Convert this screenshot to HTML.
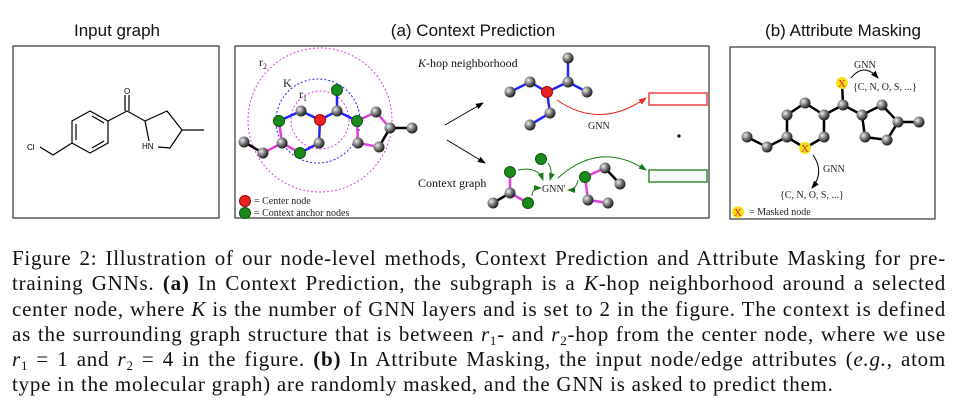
<!DOCTYPE html>
<html><head><meta charset="utf-8"><style>
body{margin:0;width:966px;height:412px;background:#fff;overflow:hidden;position:relative}
svg{position:absolute;left:0;top:0}
.cap{position:absolute;left:12px;top:246px;width:934px;font-family:"Liberation Serif",serif;font-size:21px;letter-spacing:0.75px;line-height:25.3px;color:#111}
.cap div{white-space:nowrap;text-align:justify;text-align-last:justify;height:25.3px}
.cap div.last{text-align-last:left}
.cap i{font-style:italic}
.cap sub{font-size:13px;line-height:0;vertical-align:0;position:relative;top:4px}
</style></head><body>
<svg width="966" height="240" viewBox="0 0 966 240">
<defs>
<radialGradient id="gb" cx="0.35" cy="0.35" r="0.7"><stop offset="0" stop-color="#eee"/><stop offset="0.5" stop-color="#777"/><stop offset="1" stop-color="#111"/></radialGradient>
<marker id="ab" markerWidth="8" markerHeight="8" refX="7" refY="4" orient="auto"><path d="M0,1 L8,4 L0,7z" fill="#000"/></marker>
<marker id="ar" markerWidth="8" markerHeight="8" refX="7" refY="4" orient="auto"><path d="M0,1 L8,4 L0,7z" fill="#e22"/></marker>
<marker id="ag" markerWidth="8" markerHeight="8" refX="7" refY="4" orient="auto"><path d="M0,1 L8,4 L0,7z" fill="#1a7a1a"/></marker>
</defs>
<g font-family="Liberation Sans,sans-serif" font-size="17" fill="#111" text-anchor="middle">
<text x="117" y="36">Input graph</text>
<text x="473" y="36">(a) Context Prediction</text>
<text x="843" y="36">(b) Attribute Masking</text>
</g>
<g fill="none" stroke="#333" stroke-width="1.2">
<rect x="13" y="46" width="206" height="172"/>
<rect x="235" y="46" width="474" height="172"/>
<rect x="730" y="47" width="205" height="172"/>
</g>
<g stroke="#000" stroke-width="1.2" fill="none">
<path d="M90,111 L108,121 L108,143 L90,153 L72,143 L72,121 Z"/>
<path d="M92,116 L104,123 M104,141 L92,148 M76,140 L76,124"/>
<path d="M72,143 L53,155 L40,147"/>
<path d="M108,121 L127,111 L145,121 L167,111 L182,130 L170,148 L158,147 M149,141 L145,121 M182,130 L204,130"/>
<path d="M125,111 L125,95 M129,111 L129,95"/>
</g>
<g font-family="Liberation Sans,sans-serif" font-size="8" fill="#000">
<text x="27" y="150">Cl</text><text x="124" y="94">O</text><text x="142" y="149">HN</text>
</g>
<g fill="none" stroke-dasharray="2,2" stroke-width="1">
<circle cx="320" cy="120" r="72" stroke="#e040e0"/>
<circle cx="318" cy="121" r="42" stroke="#22f"/>
<circle cx="320" cy="120" r="29" stroke="#e040e0"/>
</g>
<g font-family="Liberation Serif,serif" font-size="12" fill="#222">
<text x="259" y="66">r<tspan font-size="8" dy="3">2</tspan></text>
<text x="283" y="87">K</text>
<text x="299" y="98">r<tspan font-size="8" dy="3">1</tspan></text>
</g>
<g stroke-width="2.5" fill="none">
<path stroke="#22f" d="M320,120 L301,111 L279,121 M320,120 L337,111 L337,90 M337,111 L357,121 M320,120 L319,143 L300,153"/>
<path stroke="#e040e0" d="M279,121 L282,143 L300,153 M282,143 L263,153 M357,121 L376,112 L390,128 M357,121 L358,143 L379,147"/>
<path stroke="#000" d="M263,153 L244,142 M390,128 L412,128 M379,147 L390,128"/>
</g>
<g fill="url(#gb)">
<circle cx="301" cy="111" r="5.5"/><circle cx="337" cy="111" r="5.5"/><circle cx="319" cy="143" r="5.5"/><circle cx="282" cy="143" r="5.5"/><circle cx="263" cy="153" r="5.5"/><circle cx="244" cy="142" r="5.5"/><circle cx="376" cy="112" r="5.5"/><circle cx="390" cy="128" r="5.5"/><circle cx="412" cy="128" r="5.5"/><circle cx="379" cy="147" r="5.5"/><circle cx="358" cy="143" r="5.5"/>
</g>
<g fill="#1a8a1a" stroke="#0a5a0a"><circle cx="279" cy="121" r="5.5"/><circle cx="337" cy="90" r="5.5"/><circle cx="357" cy="121" r="5.5"/><circle cx="300" cy="153" r="5.5"/><circle cx="245" cy="213" r="5.5"/></g>
<g fill="#e82020" stroke="#a00"><circle cx="320" cy="120" r="5.5"/><circle cx="245" cy="201" r="5.5"/></g>
<g font-family="Liberation Serif,serif" font-size="10" fill="#222"><text x="254" y="204">=  Center node</text><text x="254" y="216">=  Context anchor nodes</text></g>
<g stroke="#000" stroke-width="1"><line x1="445" y1="125" x2="483" y2="103" marker-end="url(#ab)"/><line x1="447" y1="140" x2="485" y2="163" marker-end="url(#ab)"/></g>
<g font-family="Liberation Serif,serif" font-size="12" fill="#111"><text x="418" y="67"><tspan font-style="italic">K</tspan>-hop neighborhood</text><text x="418" y="187">Context graph</text></g>
<path stroke="#22f" stroke-width="2.5" fill="none" d="M510,92 L530,82 L547,92 L568,82 L568,58 M568,82 L587,92 M547,92 L550,113 L530,125"/>
<g fill="url(#gb)"><circle cx="510" cy="92" r="5.5"/><circle cx="530" cy="82" r="5.5"/><circle cx="568" cy="82" r="5.5"/><circle cx="568" cy="58" r="5.5"/><circle cx="587" cy="92" r="5.5"/><circle cx="550" cy="113" r="5.5"/><circle cx="530" cy="125" r="5.5"/></g>
<circle cx="547" cy="92" r="5.5" fill="#e82020" stroke="#a00"/>
<path d="M557,100 Q600,130 646,98" fill="none" stroke="#e22" stroke-width="1" marker-end="url(#ar)"/>
<text x="588" y="129" font-family="Liberation Serif,serif" font-size="10" fill="#222">GNN</text>
<rect x="649" y="93" width="58" height="12" fill="none" stroke="#e22" stroke-width="1.3"/>
<circle cx="679" cy="136" r="1.6" fill="#000"/>
<rect x="649" y="170" width="58" height="12" fill="none" stroke="#1a7a1a" stroke-width="1.3"/>
<g stroke-width="2.5" fill="none"><path stroke="#e040e0" d="M510,172 L510,193 L528,203 M585,177 L605,168 M585,177 L588,200 L608,203"/><path stroke="#000" d="M510,193 L493,203 M605,168 L620,184"/></g>
<g fill="url(#gb)"><circle cx="510" cy="193" r="5.5"/><circle cx="493" cy="203" r="5.5"/><circle cx="605" cy="168" r="5.5"/><circle cx="620" cy="184" r="5.5"/><circle cx="588" cy="200" r="5.5"/><circle cx="608" cy="203" r="5.5"/></g>
<g fill="#1a8a1a" stroke="#0a5a0a"><circle cx="510" cy="172" r="5.5"/><circle cx="541" cy="159" r="5.5"/><circle cx="528" cy="203" r="5.5"/><circle cx="585" cy="177" r="5.5"/></g>
<text x="542" y="192" font-family="Liberation Serif,serif" font-size="10" fill="#222">GNN′</text>
<g stroke="#1a7a1a" stroke-width="1" fill="none">
<path d="M518,170 Q538,166 543,180" marker-end="url(#ag)"/>
<path d="M548,163 Q553,170 550,180" marker-end="url(#ag)"/>
<path d="M532,196 Q532,188 541,188" marker-end="url(#ag)"/>
<path d="M578,180 Q576,190 568,190" marker-end="url(#ag)"/>
<path d="M558,178 Q600,140 646,170" marker-end="url(#ag)"/>
</g>
<path stroke="#000" stroke-width="2.5" fill="none" d="M842,83 L843,105 L824,115 L824,137 L805,148 L787,137 L787,115 L805,103 L824,115 M843,105 L862,115 L882,105 L898,122 L887,140 L865,137 L862,115 M898,122 L919,122 M787,137 L767,147 L747,137"/>
<g fill="url(#gb)"><circle cx="843" cy="105" r="5.5"/><circle cx="862" cy="115" r="5.5"/><circle cx="882" cy="105" r="5.5"/><circle cx="898" cy="122" r="5.5"/><circle cx="919" cy="122" r="5.5"/><circle cx="887" cy="140" r="5.5"/><circle cx="865" cy="137" r="5.5"/><circle cx="824" cy="115" r="5.5"/><circle cx="824" cy="137" r="5.5"/><circle cx="805" cy="103" r="5.5"/><circle cx="787" cy="115" r="5.5"/><circle cx="787" cy="137" r="5.5"/><circle cx="767" cy="147" r="5.5"/><circle cx="747" cy="137" r="5.5"/></g>
<g fill="#f2e21a"><circle cx="842" cy="83" r="6"/><circle cx="805" cy="148" r="6"/><circle cx="738" cy="212" r="6"/></g>
<g font-family="Liberation Serif,serif" font-size="11" fill="#e22" text-anchor="middle"><text x="842" y="87">X</text><text x="805" y="152">X</text><text x="738" y="216">X</text></g>
<g stroke="#000" stroke-width="1" fill="none"><path d="M851,78 Q864,62 878,78" marker-end="url(#ab)"/><path d="M813,155 Q825,172 812,188" marker-end="url(#ab)"/></g>
<g font-family="Liberation Serif,serif" font-size="10" fill="#222"><text x="854" y="68">GNN</text><text x="853" y="90">{C, N, O, S, ...}</text><text x="823" y="172">GNN</text><text x="780" y="198">{C, N, O, S, ...}</text><text x="749" y="215">=  Masked node</text></g>
</svg>
<div class="cap">
<div>Figure 2: Illustration of our node-level methods, Context Prediction and Attribute Masking for pre-</div>
<div>training GNNs. <b>(a)</b> In Context Prediction, the subgraph is a <i>K</i>-hop neighborhood around a selected</div>
<div>center node, where <i>K</i> is the number of GNN layers and is set to 2 in the figure. The context is defined</div>
<div>as the surrounding graph structure that is between <i>r</i><sub>1</sub>- and <i>r</i><sub>2</sub>-hop from the center node, where we use</div>
<div><i>r</i><sub>1</sub> = 1 and <i>r</i><sub>2</sub> = 4 in the figure. <b>(b)</b> In Attribute Masking, the input node/edge attributes (<i>e.g.</i>, atom</div>
<div class="last">type in the molecular graph) are randomly masked, and the GNN is asked to predict them.</div>
</div>
</body></html>
